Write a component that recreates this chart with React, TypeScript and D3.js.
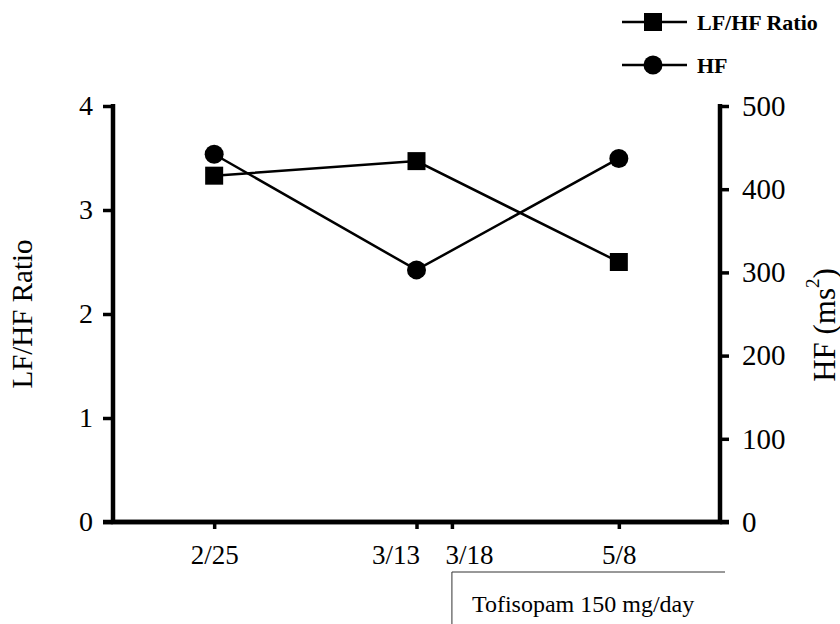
import React, { useEffect, useRef } from 'react';
import * as d3 from 'd3';

// visit dates and their slot on the x axis (axis runs 0..6)
const dates = ['2/25', '3/13', '3/18', '5/8'];
const datePos = [1, 3, 3.35, 5];

// measured visits (no measurement on 3/18)
const visitDates = ['2/25', '3/13', '5/8'];
const lfhfRatio = [3.33, 3.47, 2.5];
const hfPower = [442, 303, 437];

const leftTicks = [0, 1, 2, 3, 4];
const rightTicks = [0, 100, 200, 300, 400, 500];

const legendLabels = ['LF/HF Ratio', 'HF'];
const treatmentLabel = 'Tofisopam 150 mg/day';
const treatmentStart = '3/18';

const width = 840;
const height = 624;
const font = '"Liberation Serif", "Times New Roman", serif';

const draw = (elem: SVGSVGElement) => {
  const margin = { top: 106, right: 120, bottom: 102, left: 113 };
  const svg = d3.select(elem);
  svg.selectAll('*').remove();

  const posOf = (d: string) => datePos[dates.indexOf(d)];

  const x = d3
    .scaleLinear()
    .domain([0, 6])
    .range([margin.left, width - margin.right]);
  const yL = d3
    .scaleLinear()
    .domain([0, 4])
    .range([height - margin.bottom, margin.top]);
  const yR = d3
    .scaleLinear()
    .domain([0, 500])
    .range([height - margin.bottom, margin.top]);

  const base = height - margin.bottom;

  // left axis
  const left = svg
    .append('g')
    .attr('transform', `translate(${margin.left},0)`)
    .call(d3.axisLeft(yL).tickValues(leftTicks).tickSize(10).tickPadding(10).tickFormat(d3.format('d')));
  // right axis
  const right = svg
    .append('g')
    .attr('transform', `translate(${width - margin.right},0)`)
    .call(d3.axisRight(yR).tickValues(rightTicks).tickSize(9).tickPadding(13).tickFormat(d3.format('d')));
  // bottom axis
  const bottom = svg
    .append('g')
    .attr('transform', `translate(0,${base})`)
    .call(
      d3
        .axisBottom(x)
        .tickValues(datePos)
        .tickSize(7)
        .tickPadding(16)
        .tickFormat((_, i) => dates[i]),
    );

  [left, right, bottom].forEach((g) => {
    g.select('.domain').remove();
    g.selectAll('line').attr('stroke', '#000').attr('stroke-width', 3.5);
    g.selectAll('text')
      .attr('fill', '#000')
      .attr('font-family', font)
      .attr('font-size', 28);
  });
  right.selectAll('text').attr('font-size', 29);
  bottom.selectAll('text').attr('font-size', 27);
  // the two close dates are pushed apart so they don't collide
  const labelShift: Record<string, number> = { '3/13': -21, '3/18': 17 };
  bottom.selectAll<SVGTextElement, number>('text').attr('dx', (_, i) => labelShift[dates[i]] || 0);

  // axis lines
  svg
    .append('path')
    .attr(
      'd',
      `M${margin.left},${margin.top - 2}V${base}H${width - margin.right}V${margin.top - 2}`,
    )
    .attr('fill', 'none')
    .attr('stroke', '#000')
    .attr('stroke-width', 4.5);
  svg
    .append('line')
    .attr('x1', margin.left - 10)
    .attr('x2', width - margin.right + 9)
    .attr('y1', base)
    .attr('y2', base)
    .attr('stroke', '#000')
    .attr('stroke-width', 4.5);

  // axis titles
  svg
    .append('text')
    .attr('transform', `translate(22,${(margin.top + base) / 2}) rotate(-90)`)
    .attr('text-anchor', 'middle')
    .attr('dominant-baseline', 'central')
    .attr('font-family', font)
    .attr('font-size', 29)
    .text('LF/HF Ratio');
  const rt = svg
    .append('text')
    .attr('transform', `translate(824,325) rotate(-90)`)
    .attr('text-anchor', 'middle')
    .attr('dominant-baseline', 'central')
    .attr('font-family', font)
    .attr('font-size', 31);
  rt.append('tspan').text('HF (ms');
  rt.append('tspan').attr('font-size', 19).attr('dy', -12).text('2');
  rt.append('tspan').attr('dy', 12).text(')');

  // series
  const lfPts = visitDates.map((d, i) => [x(posOf(d)), yL(lfhfRatio[i])] as [number, number]);
  const hfPts = visitDates.map((d, i) => [x(posOf(d)), yR(hfPower[i])] as [number, number]);
  const line = d3.line();

  [lfPts, hfPts].forEach((pts) =>
    svg
      .append('path')
      .attr('d', line(pts))
      .attr('fill', 'none')
      .attr('stroke', '#000')
      .attr('stroke-width', 2.5),
  );

  const sq = 18;
  svg
    .append('g')
    .selectAll('rect')
    .data(lfPts)
    .join('rect')
    .attr('x', (d) => d[0] - sq / 2)
    .attr('y', (d) => d[1] - sq / 2)
    .attr('width', sq)
    .attr('height', sq)
    .attr('fill', '#000');
  svg
    .append('g')
    .selectAll('circle')
    .data(hfPts)
    .join('circle')
    .attr('cx', (d) => d[0])
    .attr('cy', (d) => d[1])
    .attr('r', 9.5)
    .attr('fill', '#000');

  // legend
  const legend = svg.append('g').attr('transform', 'translate(622,22)');
  legendLabels.forEach((label, i) => {
    const g = legend.append('g').attr('transform', `translate(0,${i * 43})`);
    g.append('line').attr('x1', 0).attr('x2', 65).attr('stroke', '#000').attr('stroke-width', 2.5);
    if (i === 0) {
      g.append('rect').attr('x', 31 - 9).attr('y', -9).attr('width', 18).attr('height', 18);
    } else {
      g.append('circle').attr('cx', 31).attr('r', 9.5);
    }
    g.append('text')
      .attr('x', 75)
      .attr('dominant-baseline', 'central')
      .attr('font-family', font)
      .attr('font-size', 22)
      .attr('font-weight', 'bold')
      .text(label);
  });

  // treatment bracket
  const tx = x(posOf(treatmentStart));
  svg
    .append('path')
    .attr('d', `M${width - margin.right + 5},572H${tx}V${height}`)
    .attr('fill', 'none')
    .attr('stroke', '#333')
    .attr('stroke-width', 1);
  svg
    .append('text')
    .attr('x', tx + 20)
    .attr('y', 612)
    .attr('font-family', font)
    .attr('font-size', 24)
    .text(treatmentLabel);
};

const App = () => {
  const ref = useRef<SVGSVGElement>(null);
  useEffect(() => {
    if (ref.current) draw(ref.current);
  }, []);
  return (
    <svg
      ref={ref}
      width={width}
      height={height}
      style={{ position: 'absolute', left: 0, top: 0, background: '#fff' }}
    />
  );
};

export default App;
